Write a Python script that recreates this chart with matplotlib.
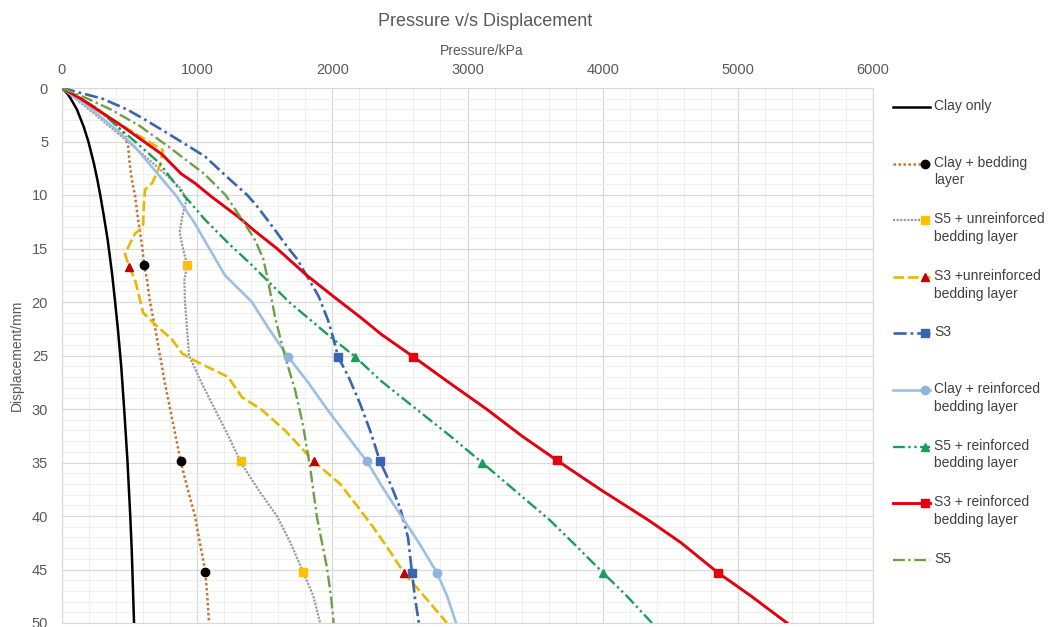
import matplotlib
matplotlib.use("Agg")
import matplotlib.pyplot as plt
from matplotlib.ticker import MultipleLocator

plt.rcParams['font.family'] = ['Liberation Sans', 'DejaVu Sans']

# displacement (mm) / pressure (kPa)
clay_D = [0, 0.5, 1, 2, 3.6, 5, 7, 8.6, 10, 12, 14.2, 17.3, 20, 22.6, 26, 30, 35, 40, 43.2, 50]
clay_P = [0, 38, 65, 110, 160, 195, 235, 262, 283, 310, 338, 370, 393, 414, 438, 460, 485,
          505, 516, 533]

bed_D = [0, 1, 2, 3, 4.4, 5.5, 7, 8.5, 10, 12, 15, 16.5, 18, 20, 22.5, 25, 27.5, 30,
         32.5, 35, 37.5, 40, 42.5, 45, 47.5, 50]
bed_P = [0, 120, 250, 370, 466, 490, 500, 515, 540, 560, 595, 607, 630, 651, 690, 725,
         760, 800, 840, 880, 930, 984, 1020, 1058, 1075, 1088]

s5u_D = [0, 2, 4, 6, 8, 9.4, 10.5, 12, 13.5, 15, 16.5, 18, 20, 22.5, 25, 27.5, 30, 32.5,
         35, 37.5, 40, 42.5, 45.2, 47.5, 50]
s5u_P = [0, 200, 390, 580, 760, 880, 920, 890, 870, 895, 925, 905, 910, 925, 940, 1030,
         1130, 1230, 1324, 1450, 1590, 1690, 1783, 1860, 1910]

s3u_D = [0, 1, 2, 3, 4, 5, 5.8, 7, 7.7, 8.9, 9.5, 11, 13, 13.6, 15.1, 15.5, 16.7, 17.9,
         19.8, 21, 22.1, 23.5, 24.8, 25.5, 27, 28.9, 30.1, 32, 34.9, 37, 39, 41, 43, 45.3,
         47.5, 50]
s3u_P = [0, 120, 250, 380, 510, 640, 745, 730, 710, 666, 614, 605, 600, 540, 481, 466,
         496, 540, 577, 600, 688, 814, 888, 984, 1228, 1332, 1480, 1650, 1864, 2057, 2180,
         2300, 2410, 2530, 2680, 2848]

s3_D = [0, 1, 2, 3, 5, 6.4, 8.3, 10, 11, 13, 14.8, 16, 17.6, 19.5, 21.7, 23.5, 25.1, 27,
        29.5, 32, 34.9, 37, 39.2, 42, 45.3, 47.5, 50]
s3_P = [0, 300, 480, 620, 880, 1058, 1220, 1370, 1440, 1560, 1664, 1740, 1813, 1900,
        1968, 2010, 2042, 2120, 2205, 2279, 2353, 2430, 2500, 2560, 2589, 2610, 2640]

clr_D = [0, 2, 4, 5.5, 7.4, 10, 12.5, 15, 17.5, 20, 22.5, 25.1, 27.5, 30, 32.5, 34.9,
         37.5, 40, 42.5, 45.3, 47.5, 50]
clr_P = [0, 220, 410, 540, 666, 840, 975, 1090, 1205, 1405, 1530, 1672, 1820, 1960, 2110,
         2256, 2380, 2510, 2640, 2774, 2850, 2915]

s5r_D = [0, 1, 2, 3.5, 5, 7, 10, 12.3, 14.5, 16.5, 18.5, 20, 23.3, 25.1, 27.3, 30, 32.5,
         35, 37.5, 40.4, 42.5, 45.3, 47.5, 50]
s5r_P = [0, 140, 270, 400, 540, 720, 900, 1058, 1230, 1400, 1560, 1680, 1990, 2168, 2353,
         2620, 2870, 3107, 3340, 3610, 3780, 4002, 4180, 4365]

s3r_D = [0, 1, 2, 3.6, 4.5, 6.2, 8, 8.9, 10.2, 12, 13.3, 15, 17.5, 19.5, 21.4, 23, 25.1,
         27.5, 30, 32.5, 34.8, 37.5, 40.4, 42.5, 45.3, 47.5, 50]
s3r_P = [0, 140, 260, 450, 550, 740, 880, 984, 1110, 1300, 1420, 1590, 1810, 2010, 2205,
         2360, 2597, 2860, 3140, 3400, 3662, 3980, 4340, 4580, 4853, 5100, 5364]

s5_D = [0, 1, 2, 3.5, 5.5, 8, 10, 12.3, 14.2, 16, 18, 21.4, 25.1, 28.2, 31.3, 35.4, 40.1,
        44.8, 47.5, 50]
s5_P = [0, 190, 360, 570, 790, 1050, 1210, 1332, 1428, 1490, 1524, 1576, 1650, 1724, 1780,
        1835, 1886, 1960, 1990, 2010]

# marker points
bed_mk_D, bed_mk_P = [16.5, 34.9, 45.2], [607, 880, 1058]
s5u_mk_D, s5u_mk_P = [16.5, 34.9, 45.2], [925, 1324, 1783]
s3u_mk_D, s3u_mk_P = [16.7, 34.9, 45.3], [496, 1864, 2530]
s3_mk_D, s3_mk_P = [25.1, 34.9, 45.3], [2042, 2353, 2589]
clr_mk_D, clr_mk_P = [25.1, 34.9, 45.3], [1672, 2256, 2774]
s5r_mk_D, s5r_mk_P = [25.1, 35.0, 45.3], [2168, 3107, 4002]
s3r_mk_D, s3r_mk_P = [25.1, 34.8, 45.3], [2597, 3662, 4853]

labels = ["Clay only", "Clay + bedding\nlayer", "S5 + unreinforced\nbedding layer",
          "S3 +unreinforced\nbedding layer", "S3", "Clay + reinforced\nbedding layer",
          "S5 + reinforced\nbedding layer", "S3 + reinforced\nbedding layer", "S5"]

series = [
    # P, D, mkP, mkD, color, linestyle, lw, marker, marker color
    (clay_P, clay_D, [], [], "black", "-", 1.8, None, None),
    (bed_P, bed_D, bed_mk_P, bed_mk_D, "#c8742f", (0, (1, 1)), 1.8, "o", "black"),
    (s5u_P, s5u_D, s5u_mk_P, s5u_mk_D, "#9a9a9a", (0, (1, 0.6)), 1.6, "s", "#ffc000"),
    (s3u_P, s3u_D, s3u_mk_P, s3u_mk_D, "#e8b800", (0, (4, 1.5)), 1.9, "^", "#c00000"),
    (s3_P, s3_D, s3_mk_P, s3_mk_D, "#3a64b0", (0, (5, 1.5, 1, 1.5)), 1.9, "s", "#3a64b0"),
    (clr_P, clr_D, clr_mk_P, clr_mk_D, "#9dbfe3", "-", 1.9, "o", "#8fb4de"),
    (s5r_P, s5r_D, s5r_mk_P, s5r_mk_D, "#1a9c5b", (0, (5, 1.5, 1, 1.5, 1, 1.5)), 1.7, "^", "#1a9c5b"),
    (s3r_P, s3r_D, s3r_mk_P, s3r_mk_D, "#e3000f", "-", 2.1, "s", "#e3000f"),
    (s5_P, s5_D, [], [], "#6f9e45", (0, (5, 1.5, 1, 1.5)), 1.7, None, None),
]

fig = plt.figure(figsize=(10.57, 6.27), dpi=100)
ax = fig.add_axes([62 / 1057, 1 - 623 / 627, 811 / 1057, 535 / 627])

for P, D, mP, mD, col, ls, lw, mk, mcol in series:
    ax.plot(P, D, color=col, linestyle=ls, lw=lw, zorder=3)
    if mk:
        ax.plot(mP, mD, linestyle="none", marker=mk, ms=6, color=mcol, zorder=4)

ax.set_xlim(0, 6000)
ax.set_ylim(50, 0)
ax.xaxis.tick_top()
ax.xaxis.set_label_position("top")
ax.xaxis.set_major_locator(MultipleLocator(1000))
ax.xaxis.set_minor_locator(MultipleLocator(200))
ax.yaxis.set_major_locator(MultipleLocator(5))
ax.yaxis.set_minor_locator(MultipleLocator(1))
ax.grid(which="major", color="#d9d9d9", lw=0.9)
ax.grid(which="minor", color="#efefef", lw=0.7)
ax.set_axisbelow(True)
ax.tick_params(which="both", length=0, labelsize=10.5, labelcolor="#595959")
ax.tick_params(axis="x", pad=8)
ax.tick_params(axis="y", pad=10)
for s in ax.spines.values():
    s.set_color("#d9d9d9")

ax.set_xlabel("Pressure/kPa", fontsize=10, color="#595959")
ax.xaxis.set_label_coords(0.517, 1.062)
ax.set_ylabel("Displacement/mm", fontsize=10, color="#595959", labelpad=6)
fig.text(485 / 1057, 1 - 21 / 627, "Pressure v/s Displacement", ha="center", va="center",
         fontsize=13, color="#595959")

# legend drawn in its own pixel-space axes
lax = fig.add_axes([880 / 1057, 0, 177 / 1057, 1])
lax.set_xlim(880, 1057)
lax.set_ylim(627, 0)
lax.axis("off")
for i, (lab, s) in enumerate(zip(labels, series)):
    P, D, mP, mD, col, ls, lw, mk, mcol = s
    y = 107 + 56.6 * i
    lax.plot([893, 930], [y, y], color=col, linestyle=ls, lw=lw)
    if mk:
        lax.plot([925], [y], marker=mk, ms=6, color=mcol, linestyle="none")
    lax.text(934, y - 8, lab, fontsize=10, color="#404040", va="top", ha="left",
             linespacing=1.35)

fig.savefig("out.png", dpi=100)
